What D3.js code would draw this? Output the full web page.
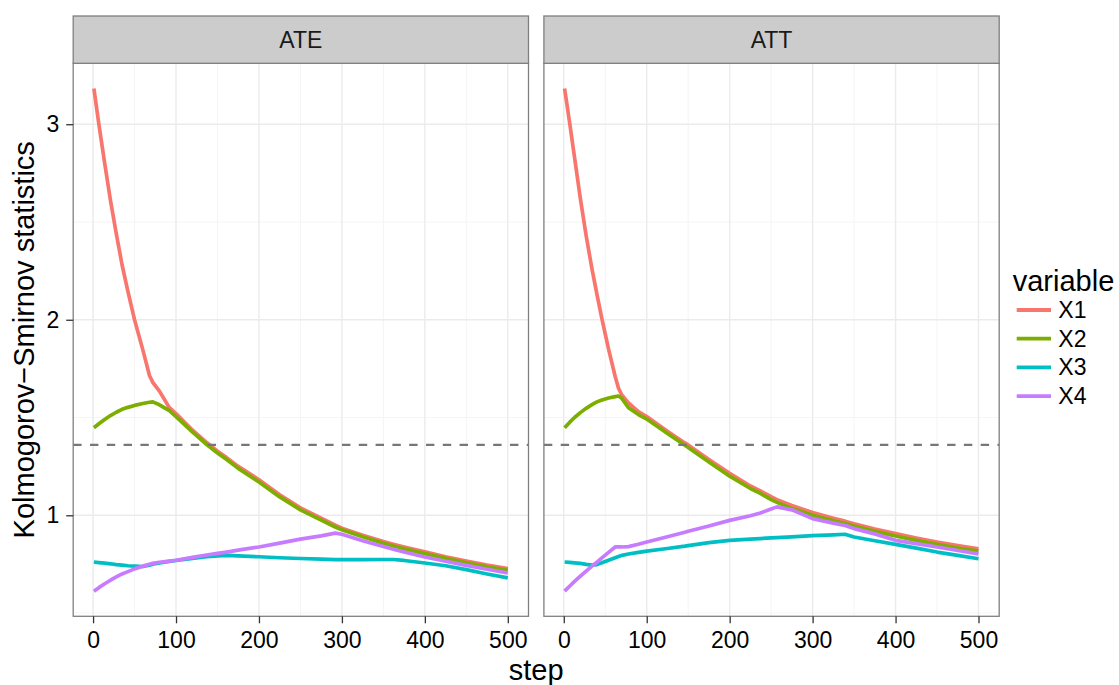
<!DOCTYPE html>
<html>
<head>
<meta charset="utf-8">
<script src="https://cdn.jsdelivr.net/npm/d3@7"></script>
<style>
  html, body { margin: 0; padding: 0; background: #ffffff; }
  svg { display: block; }
  text { font-family: "Liberation Sans", Arial, Helvetica, sans-serif; }
</style>
</head>
<body>
<svg id="chart" width="1119" height="685"></svg>
<script>
// ---- data -------------------------------------------------------------
const panels = ["ATE", "ATT"];
const variables = ["X1", "X2", "X3", "X4"];
const colors = ["#F8766D", "#7CAE00", "#00BFC4", "#C77CFF"];
const xTicks = [0, 100, 200, 300, 400, 500];
const yTicks = [1, 2, 3];
const ksCritical = 1.36;

// ATE panel
const stepsATE = [1, 7, 14, 21, 28, 35, 42, 50, 60, 68, 72, 80, 92, 100, 120, 137, 150, 161, 175, 200, 225, 250, 275, 292, 300, 325, 350, 362, 375, 400, 425, 450, 475, 500];
const ateX1 = [3.183, 3.00, 2.80, 2.61, 2.44, 2.28, 2.145, 2.00, 1.846, 1.715, 1.68, 1.635, 1.55, 1.52, 1.435, 1.372, 1.328, 1.295, 1.25, 1.182, 1.105, 1.038, 0.985, 0.95, 0.934, 0.898, 0.866, 0.852, 0.838, 0.813, 0.788, 0.766, 0.745, 0.727];
const ateX2 = [1.448, 1.468, 1.49, 1.51, 1.527, 1.542, 1.552, 1.562, 1.572, 1.578, 1.58, 1.565, 1.535, 1.505, 1.425, 1.362, 1.318, 1.285, 1.24, 1.17, 1.094, 1.028, 0.975, 0.94, 0.926, 0.89, 0.857, 0.843, 0.829, 0.804, 0.78, 0.757, 0.737, 0.718];
const ateX3 = [0.761, 0.758, 0.755, 0.752, 0.748, 0.745, 0.742, 0.74, 0.738, 0.745, 0.75, 0.756, 0.764, 0.769, 0.78, 0.788, 0.792, 0.795, 0.792, 0.788, 0.783, 0.779, 0.776, 0.773, 0.773, 0.773, 0.774, 0.774, 0.769, 0.756, 0.742, 0.722, 0.70, 0.68];
const ateX4 = [0.612, 0.63, 0.65, 0.668, 0.685, 0.70, 0.712, 0.726, 0.74, 0.75, 0.754, 0.76, 0.766, 0.77, 0.785, 0.797, 0.805, 0.812, 0.822, 0.838, 0.858, 0.878, 0.895, 0.909, 0.903, 0.87, 0.84, 0.826, 0.812, 0.787, 0.765, 0.744, 0.724, 0.705];

// ATT panel
const stepsATT = [1, 7, 13, 20, 27, 34, 40, 46, 54, 62, 66, 70, 78, 90, 100, 125, 146, 150, 175, 200, 225, 237, 250, 257, 275, 300, 325, 339, 350, 375, 400, 425, 450, 475, 500];
const attX1 = [3.183, 3.01, 2.83, 2.62, 2.43, 2.26, 2.13, 2.005, 1.85, 1.71, 1.65, 1.615, 1.575, 1.53, 1.505, 1.43, 1.37, 1.36, 1.285, 1.215, 1.15, 1.125, 1.095, 1.08, 1.05, 1.014, 0.985, 0.97, 0.957, 0.93, 0.906, 0.884, 0.863, 0.845, 0.829];
const attX2 = [1.448, 1.475, 1.50, 1.525, 1.547, 1.566, 1.58, 1.59, 1.60, 1.607, 1.61, 1.598, 1.55, 1.515, 1.492, 1.418, 1.358, 1.347, 1.272, 1.20, 1.137, 1.112, 1.08, 1.066, 1.035, 1.00, 0.972, 0.958, 0.945, 0.918, 0.894, 0.872, 0.851, 0.833, 0.817];
const attX3 = [0.761, 0.759, 0.757, 0.754, 0.749, 0.745, 0.748, 0.757, 0.77, 0.783, 0.789, 0.795, 0.802, 0.81, 0.817, 0.83, 0.842, 0.845, 0.86, 0.872, 0.878, 0.881, 0.885, 0.886, 0.89, 0.896, 0.90, 0.903, 0.889, 0.87, 0.851, 0.832, 0.812, 0.795, 0.778];
const attX4 = [0.612, 0.637, 0.662, 0.689, 0.715, 0.74, 0.76, 0.782, 0.81, 0.838, 0.838, 0.838, 0.84, 0.852, 0.863, 0.89, 0.913, 0.918, 0.945, 0.974, 0.998, 1.012, 1.032, 1.043, 1.028, 0.983, 0.96, 0.948, 0.932, 0.905, 0.872, 0.855, 0.838, 0.82, 0.803];

// ---- layout -----------------------------------------------------------
const svg = d3.select("#chart");
const panelLeft = 73.2, panelW = 455.3, panelGap = 15.4;
const stripTop = 16, stripH = 47.3;
const plotTop = stripTop + stripH, plotBottom = 616.3;
const plotH = plotBottom - plotTop;

const grey50 = "#7f7f7f";
const tickFont = 23, titleFont = 29;

const panelData = [
  { name: panels[0], steps: stepsATE, series: [ateX1, ateX2, ateX3, ateX4] },
  { name: panels[1], steps: stepsATT, series: [attX1, attX2, attX3, attX4] }
];

// shared scales with ggplot-style 5% expansion
const allSteps = stepsATE.concat(stepsATT);
const allVals = [].concat(...panelData.map(p => [].concat(...p.series)));
const xMin = d3.min(allSteps), xMax = d3.max(allSteps);
const yMin = d3.min(allVals), yMax = d3.max(allVals);
const xPad = (xMax - xMin) * 0.05, yPad = (yMax - yMin) * 0.05;

const x = d3.scaleLinear().domain([xMin - xPad, xMax + xPad]).range([0, panelW]);
const y = d3.scaleLinear().domain([yMin - yPad, yMax + yPad]).range([plotH, 0]);

const xMinor = [50, 150, 250, 350, 450];
const yMinor = [0.5, 1.5, 2.5];

panelData.forEach((p, i) => {
  const g = svg.append("g")
    .attr("transform", `translate(${panelLeft + i * (panelW + panelGap)},${plotTop})`);

  // panel background
  g.append("rect").attr("width", panelW).attr("height", plotH).attr("fill", "#ffffff");

  // minor grid
  g.selectAll(".gx-minor").data(xMinor).join("line")
    .attr("x1", d => x(d)).attr("x2", d => x(d)).attr("y1", 0).attr("y2", plotH)
    .attr("stroke", "#f5f5f5").attr("stroke-width", 1.1);
  g.selectAll(".gy-minor").data(yMinor).join("line")
    .attr("y1", d => y(d)).attr("y2", d => y(d)).attr("x1", 0).attr("x2", panelW)
    .attr("stroke", "#f5f5f5").attr("stroke-width", 1.1);

  // major grid
  g.selectAll(".gx-major").data(xTicks).join("line")
    .attr("x1", d => x(d)).attr("x2", d => x(d)).attr("y1", 0).attr("y2", plotH)
    .attr("stroke", "#ebebeb").attr("stroke-width", 1.4);
  g.selectAll(".gy-major").data(yTicks).join("line")
    .attr("y1", d => y(d)).attr("y2", d => y(d)).attr("x1", 0).attr("x2", panelW)
    .attr("stroke", "#ebebeb").attr("stroke-width", 1.4);

  // series lines
  const clipId = "clip" + i;
  g.append("clipPath").attr("id", clipId)
    .append("rect").attr("width", panelW).attr("height", plotH);
  const lineGen = d3.line().x(d => x(d[0])).y(d => y(d[1]));
  const lines = g.append("g").attr("clip-path", `url(#${clipId})`);
  p.series.forEach((vals, k) => {
    lines.append("path")
      .datum(p.steps.map((s, j) => [s, vals[j]]))
      .attr("d", lineGen)
      .attr("fill", "none")
      .attr("stroke", colors[k])
      .attr("stroke-width", 3.7)
      .attr("stroke-linejoin", "round");
  });

  // critical value reference line
  g.append("line")
    .attr("x1", 0).attr("x2", panelW)
    .attr("y1", y(ksCritical)).attr("y2", y(ksCritical))
    .attr("stroke", "#777777").attr("stroke-width", 2.4)
    .attr("stroke-dasharray", "8.4,8.4");

  // panel border
  g.append("rect").attr("width", panelW).attr("height", plotH)
    .attr("fill", "none").attr("stroke", grey50).attr("stroke-width", 1.3);

  // strip
  g.append("rect").attr("x", 0).attr("y", -stripH).attr("width", panelW).attr("height", stripH)
    .attr("fill", "#cccccc").attr("stroke", grey50).attr("stroke-width", 1.3);
  g.append("text")
    .attr("x", panelW / 2).attr("y", -stripH / 2)
    .attr("text-anchor", "middle").attr("dominant-baseline", "central")
    .attr("font-size", tickFont).attr("fill", "#1a1a1a")
    .text(p.name);

  // x axis
  const xAxis = g.append("g").attr("transform", `translate(0,${plotH})`)
    .call(d3.axisBottom(x).tickValues(xTicks).tickSize(7).tickPadding(8).tickFormat(d3.format("d")));
  xAxis.select(".domain").remove();
  xAxis.selectAll(".tick line").attr("stroke", "#333333").attr("stroke-width", 1.3);
  xAxis.selectAll(".tick text").attr("font-size", tickFont).attr("fill", "#000000")
    .attr("font-family", "Liberation Sans, Arial, sans-serif");

  // y axis (left panel only)
  if (i === 0) {
    const yAxis = g.append("g")
      .call(d3.axisLeft(y).tickValues(yTicks).tickSize(7).tickPadding(7).tickFormat(d3.format("d")));
    yAxis.select(".domain").remove();
    yAxis.selectAll(".tick line").attr("stroke", "#333333").attr("stroke-width", 1.3);
    yAxis.selectAll(".tick text").attr("font-size", tickFont).attr("fill", "#000000")
      .attr("font-family", "Liberation Sans, Arial, sans-serif");
  }
});

// axis titles
const plotsRight = panelLeft + 2 * panelW + panelGap;
svg.append("text")
  .attr("x", (panelLeft + plotsRight) / 2).attr("y", 680)
  .attr("text-anchor", "middle").attr("font-size", titleFont).attr("fill", "#000000")
  .text("step");
svg.append("text")
  .attr("transform", `translate(33.5,${(plotTop + plotBottom) / 2}) rotate(-90)`)
  .attr("text-anchor", "middle").attr("font-size", titleFont).attr("fill", "#000000")
  .text("Kolmogorov\u2212Smirnov statistics");

// legend
const legend = svg.append("g").attr("transform", "translate(1012.7,0)");
legend.append("text").attr("x", 0).attr("y", 290.7)
  .attr("font-size", titleFont).attr("fill", "#000000").text("variable");
const keyTop = 310, keyStep = 28.7;
variables.forEach((v, k) => {
  const cy = keyTop + k * keyStep;
  legend.append("line")
    .attr("x1", 4).attr("x2", 38.3).attr("y1", cy).attr("y2", cy)
    .attr("stroke", colors[k]).attr("stroke-width", 3.8);
  legend.append("text")
    .attr("x", 45.6).attr("y", cy).attr("dominant-baseline", "central")
    .attr("font-size", tickFont).attr("fill", "#000000").text(v);
});
</script>
</body>
</html>
